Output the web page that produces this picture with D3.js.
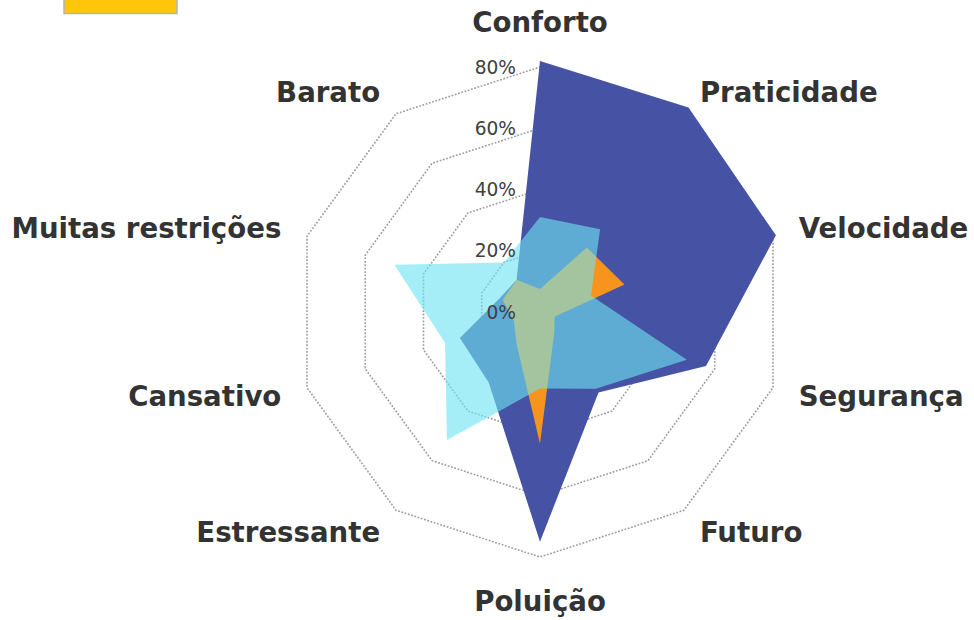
<!DOCTYPE html>
<html>
<head>
<meta charset="utf-8">
<script src="https://cdn.jsdelivr.net/npm/d3@7"></script>
<style>
  body { margin: 0; background: #fff; }
  svg { display: block; }
</style>
</head>
<body>
<div id="chart"></div>
<script>
// Categories, clockwise from the top
const categories = ["Conforto", "Praticidade", "Velocidade", "Segurança", "Futuro",
                    "Poluição", "Estressante", "Cansativo", "Muitas restrições", "Barato"];

// Series values in percent
const seriesNavy   = [82, 82.5, 81, 57, 32.5, 75, 28.5, 27.5, 14, 13];
const seriesOrange = [7.5, 26, 29, 5, 8, 43, 13, 9, 12.8, 13];
const seriesCyan   = [31, 33.4, 17.5, 50.4, 31, 25, 51.7, 32.6, 50, 20];

const tickValues = [0, 20, 40, 60, 80];
const tickLabels = ["0%", "20%", "40%", "60%", "80%"];

const W = 974, H = 620;
const cx = 540, cy = 312;

const svg = d3.select("#chart").append("svg")
    .attr("width", W)
    .attr("height", H);

const r = d3.scaleLinear().domain([0, 80]).range([0, 245]);
const angle = d3.scaleLinear().domain([0, categories.length]).range([0, 2 * Math.PI]);

const radar = d3.lineRadial()
    .angle((d, i) => angle(i))
    .radius(d => r(d))
    .curve(d3.curveLinearClosed);

const g = svg.append("g").attr("transform", `translate(${cx},${cy})`);

// dotted grid rings
g.selectAll(".ring")
    .data(tickValues.filter(v => v > 0))
    .join("path")
        .attr("class", "ring")
        .attr("d", v => radar(categories.map(() => v)))
        .attr("fill", "none")
        .attr("stroke", "#9e9e9e")
        .attr("stroke-width", 1.6)
        .attr("stroke-dasharray", "1.8,1.6");

// series areas: navy and orange are solid, cyan is see-through
const series = [
    { values: seriesNavy,   fill: "#4653a5", opacity: 1 },
    { values: seriesOrange, fill: "#f7941d", opacity: 1 },
    { values: seriesCyan,   fill: "#6de3f2", opacity: 0.61 }
];

g.selectAll(".area")
    .data(series)
    .join("path")
        .attr("class", "area")
        .attr("d", d => radar(d.values))
        .attr("fill", d => d.fill)
        .attr("fill-opacity", d => d.opacity);

// radial tick labels
g.selectAll(".tick-label")
    .data(tickValues)
    .join("text")
        .attr("class", "tick-label")
        .attr("x", -24)
        .attr("y", d => -r(d))
        .attr("dy", "0.36em")
        .attr("text-anchor", "end")
        .style("font-family", "'DejaVu Sans', Verdana, sans-serif")
        .style("font-size", "18.6px")
        .attr("fill", "#404040")
        .text((d, i) => tickLabels[i]);

// category labels
const labelR = 272;
g.selectAll(".cat-label")
    .data(categories)
    .join("text")
        .attr("class", "cat-label")
        .attr("x", (d, i) => labelR * Math.sin(angle(i)))
        .attr("y", (d, i) => {
            const c = Math.cos(angle(i));
            if (c > 0.99) return -labelR - 8;
            if (c < -0.99) return labelR + 27;
            return -labelR * c;
        })
        .attr("dy", (d, i) => Math.abs(Math.cos(angle(i))) > 0.99 ? 0 : "0.36em")
        .attr("text-anchor", (d, i) => {
            const s = Math.sin(angle(i));
            if (Math.abs(s) < 0.01) return "middle";
            return s > 0 ? "start" : "end";
        })
        .style("font-family", "'DejaVu Sans', Verdana, sans-serif")
        .style("font-size", "27.6px")
        .style("font-weight", "bold")
        .attr("fill", "#333333")
        .text(d => d);

// legend swatch, cut by the top edge
svg.append("rect")
    .attr("x", 64)
    .attr("y", -12)
    .attr("width", 113)
    .attr("height", 25.5)
    .attr("fill", "#ffc60b")
    .attr("stroke", "#b4b4b4")
    .attr("stroke-width", 1.5);
</script>
</body>
</html>
